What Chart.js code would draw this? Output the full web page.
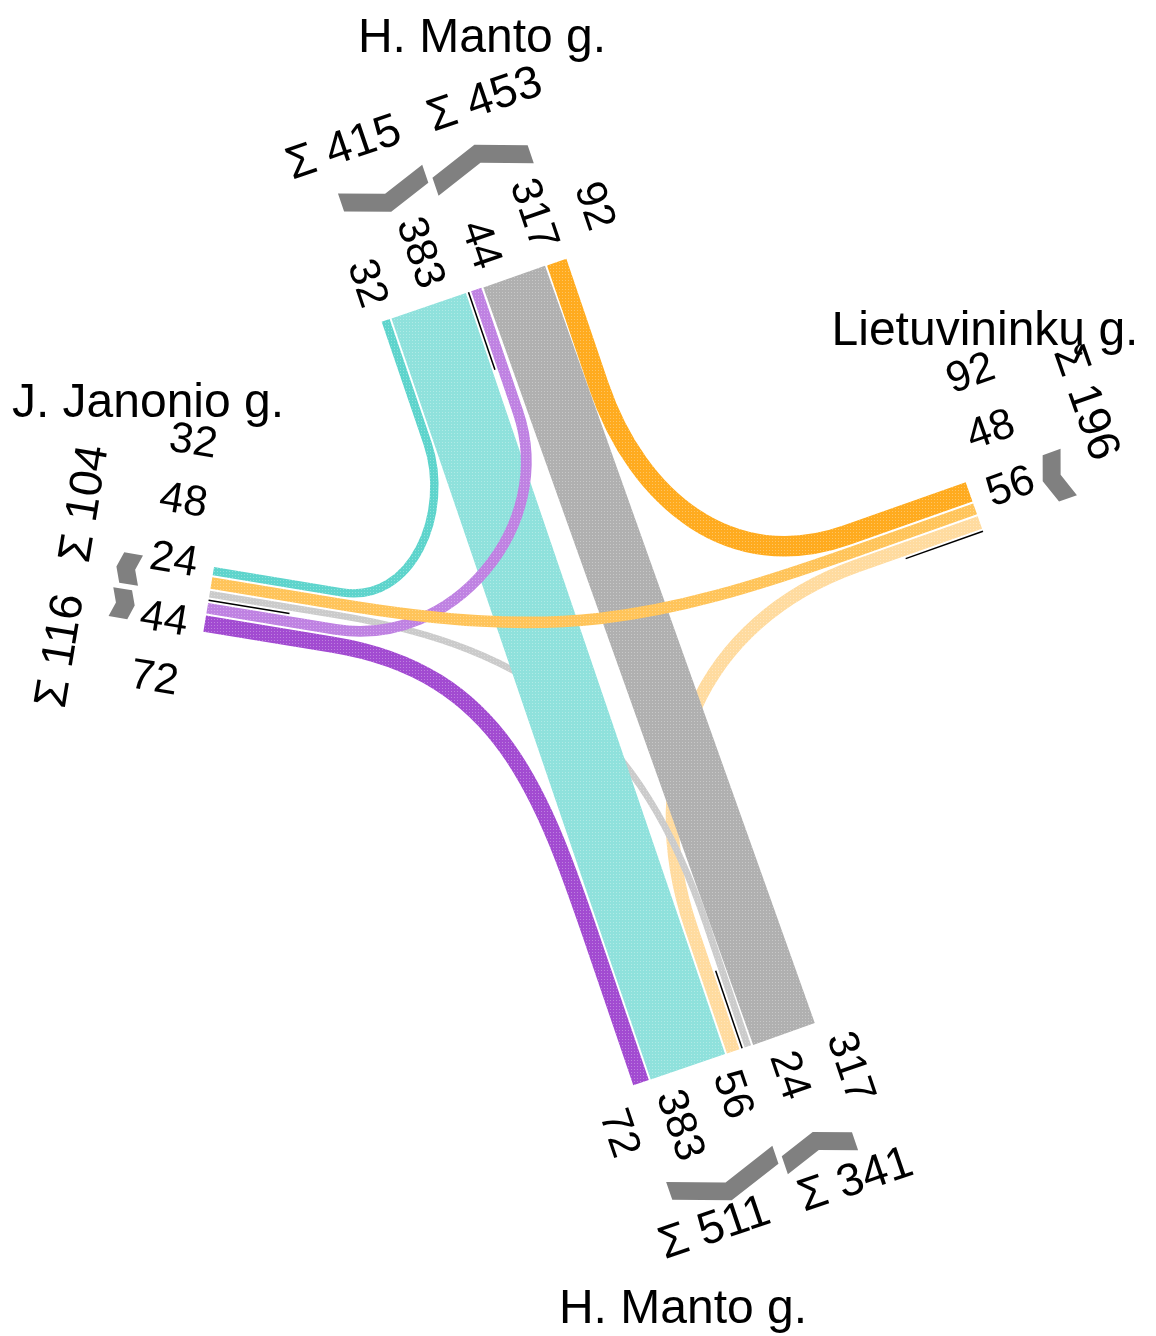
<!DOCTYPE html>
<html>
<head>
<meta charset="utf-8">
<script src="https://cdn.jsdelivr.net/npm/chart.js@4.4.1/dist/chart.umd.min.js"></script>
<style>
  html, body { margin: 0; padding: 0; background: #fff; }
  canvas { display: block; }
</style>
</head>
<body>
<canvas id="junctionChart" width="1156" height="1336"></canvas>
<script>
// arms, listed counter-clockwise
const armCodes = ['N', 'W', 'S', 'E'];
const armNames = ['H. Manto g.', 'J. Janonio g.', 'H. Manto g.', 'Lietuvininkų g.'];

// flows (array order = drawing order)
const flowFrom  = ['E', 'S', 'N', 'S', 'N', 'W', 'W', 'E', 'E'];
const flowTo    = ['S', 'W', 'S', 'N', 'W', 'S', 'N', 'N', 'W'];
const flowValue = [56, 24, 383, 317, 32, 72, 44, 92, 48];

// colour per origin: [right turn, straight, left turn]
const originColors = {
  N: ['#5ed4cc', '#8fe1dc', '#c2efec'],
  W: ['#a24bd1', '#b98be0', '#bf82e2'],
  S: ['#909090', '#b0b0b0', '#cbcbcb'],
  E: ['#ffab1f', '#ffc45a', '#ffdb9f']
};

// where each arm sits (centre of its end, outward angle in degrees)
const layout = {
  N: { x: 474.0, y: 290.3, angle: -108.8, chevron: 101, sum: 176, shift: 22, name: [482, 52] },
  W: { x: 208.7, y: 599.4, angle: -170.64, chevron: 72, sum: 137, shift: 29, name: [148, 417] },
  S: { x: 724.1, y: 1054.4, angle: 71.2, chevron: 102, sum: 162, shift: 0, name: [683, 1323] },
  E: { x: 974.8, y: 508.1, angle: -19.45, chevron: 73, sum: 139, shift: -67, name: [985, 345] }
};

const GAP = 2;          // between bands of one group
const GROUP_GAP = 5.5;  // between outgoing and incoming groups
const STRAIGHT = 130;   // straight run from an arm end
const HANDLE = 0.42;    // bezier handle, share of chord
const CHEV_T = 19;
const CHEV_DEPTH = 0.35;
const LABEL_GAP = 17;
const LABEL_SEP = 60;
const SUM_SEP = 149;
const FONT = "'Liberation Sans', Arial, sans-serif";

function bandWidth(v) {
  return 2 + 0.2 * v;
}

function spread(centers, sep) {
  let groups = centers.map(c => ({ n: 1, sum: c, start: c }));
  let merged = true;
  while (merged) {
    merged = false;
    for (let k = 0; k < groups.length - 1; k++) {
      const g1 = groups[k], g2 = groups[k + 1];
      if (g2.start - (g1.start + (g1.n - 1) * sep) < sep) {
        const n = g1.n + g2.n, sum = g1.sum + g2.sum;
        groups.splice(k, 2, { n: n, sum: sum, start: sum / n - (n - 1) * sep / 2 });
        merged = true;
        break;
      }
    }
  }
  return groups.flatMap(g => Array.from({ length: g.n }, (_, i) => g.start + i * sep));
}

function buildArms() {
  return armCodes.map((code, i) => {
    const L = layout[code];
    const rad = L.angle * Math.PI / 180;
    const d = [Math.cos(rad), Math.sin(rad)];
    const p = [-d[1], d[0]];
    const others = [1, 2, 3].map(k => armCodes[(i + k) % 4]);
    const idx = flowValue.map((v, j) => j);
    const outIdx = idx.filter(j => flowFrom[j] === code)
      .sort((a, b) => others.indexOf(flowTo[a]) - others.indexOf(flowTo[b]));
    const inIdx = idx.filter(j => flowTo[j] === code)
      .sort((a, b) => others.indexOf(flowFrom[a]) - others.indexOf(flowFrom[b]));
    const slots = {};
    let b = 0;
    outIdx.forEach((j, k) => {
      if (k) b += GAP;
      slots[j] = { b0: b, b1: b + bandWidth(flowValue[j]) };
      b = slots[j].b1;
    });
    const outEnd = b;
    b += GROUP_GAP;
    const inStart = b;
    inIdx.forEach((j, k) => {
      if (k) b += GAP;
      slots[j] = { b0: b, b1: b + bandWidth(flowValue[j]) };
      b = slots[j].b1;
    });
    const W = b;
    const pt = (bb, a) => [L.x + (bb - W / 2) * p[0] + a * d[0], L.y + (bb - W / 2) * p[1] + a * d[1]];
    return { code, name: armNames[i], L, d, p, outIdx, inIdx, slots, outEnd, inStart, W, pt };
  });
}

const junctionPlugin = {
  id: 'junction',
  afterDraw(chart) {
    const ctx = chart.ctx;
    const xs = chart.scales.x, ys = chart.scales.y;
    const X = v => xs.getPixelForValue(v);
    const Y = v => ys.getPixelForValue(v);
    const unit = X(1) - X(0);
    const arms = buildArms();
    const byCode = {};
    arms.forEach(a => { byCode[a.code] = a; });

    function dotted(color) {
      const c = document.createElement('canvas');
      c.width = 3; c.height = 3;
      const g = c.getContext('2d');
      g.fillStyle = color;
      g.fillRect(0, 0, 3, 3);
      g.fillStyle = 'rgba(255,255,255,0.3)';
      g.fillRect(1, 1, 1, 1);
      return ctx.createPattern(c, 'repeat');
    }

    ctx.save();

    // ribbons
    flowValue.forEach((v, j) => {
      const A = byCode[flowFrom[j]], B = byCode[flowTo[j]];
      const sa = A.slots[j], sb = B.slots[j];
      const ba = (sa.b0 + sa.b1) / 2, bb = (sb.b0 + sb.b1) / 2;
      const pa = A.pt(ba, 0), pai = A.pt(ba, -STRAIGHT);
      const pb = B.pt(bb, 0), pbi = B.pt(bb, -STRAIGHT);
      const turn = (armCodes.indexOf(flowTo[j]) - armCodes.indexOf(flowFrom[j]) + 4) % 4;
      const opposite = A.d[0] * B.d[0] + A.d[1] * B.d[1] < -0.99;
      ctx.beginPath();
      ctx.moveTo(X(pa[0]), Y(pa[1]));
      if (opposite) {
        ctx.lineTo(X(pb[0]), Y(pb[1]));
      } else {
        const h = HANDLE * Math.hypot(pai[0] - pbi[0], pai[1] - pbi[1]);
        const c1 = [pai[0] - h * A.d[0], pai[1] - h * A.d[1]];
        const c2 = [pbi[0] - h * B.d[0], pbi[1] - h * B.d[1]];
        ctx.lineTo(X(pai[0]), Y(pai[1]));
        ctx.bezierCurveTo(X(c1[0]), Y(c1[1]), X(c2[0]), Y(c2[1]), X(pbi[0]), Y(pbi[1]));
        ctx.lineTo(X(pb[0]), Y(pb[1]));
      }
      ctx.lineWidth = bandWidth(v) * unit;
      ctx.lineCap = 'butt';
      ctx.lineJoin = 'round';
      ctx.strokeStyle = dotted(originColors[flowFrom[j]][turn - 1]);
      ctx.stroke();
    });

    arms.forEach(arm => {
      // divider between outgoing and incoming
      const bl = arm.outEnd + GROUP_GAP / 2;
      const l0 = arm.pt(bl, 0), l1 = arm.pt(bl, -82);
      ctx.beginPath();
      ctx.moveTo(X(l0[0]), Y(l0[1]));
      ctx.lineTo(X(l1[0]), Y(l1[1]));
      ctx.lineWidth = 1.5;
      ctx.strokeStyle = '#000';
      ctx.stroke();

      // chevrons
      const groups = [
        { idx: arm.outIdx, b0: 0, b1: arm.outEnd, inward: true },
        { idx: arm.inIdx, b0: arm.inStart, b1: arm.W, inward: false }
      ];
      groups.forEach(g => {
        if (!g.idx.length) return;
        const half = (g.b1 - g.b0) / 2, bm = (g.b0 + g.b1) / 2;
        const dep = CHEV_DEPTH * half, a0 = arm.L.chevron;
        const inner = g.inward
          ? [[a0 + dep, g.b0], [a0, bm], [a0 + dep, g.b1]]
          : [[a0, g.b0], [a0 + dep, bm], [a0, g.b1]];
        const outer = inner.map(q => [q[0] + CHEV_T, q[1]]).reverse();
        ctx.beginPath();
        inner.concat(outer).forEach((q, k) => {
          const s = arm.pt(q[1], q[0]);
          if (k) ctx.lineTo(X(s[0]), Y(s[1])); else ctx.moveTo(X(s[0]), Y(s[1]));
        });
        ctx.closePath();
        ctx.fillStyle = '#808080';
        ctx.fill();
      });

      ctx.fillStyle = '#000';
      ctx.textAlign = 'center';
      ctx.textBaseline = 'middle';

      // value labels
      const order = arm.outIdx.concat(arm.inIdx);
      const centers = order.map(j => (arm.slots[j].b0 + arm.slots[j].b1) / 2);
      const placed = spread(centers, LABEL_SEP);
      const rd = arm.d[0] > 0 ? arm.d : [-arm.d[0], -arm.d[1]];
      ctx.font = '43px ' + FONT;
      order.forEach((j, k) => {
        const txt = String(flowValue[j]);
        const a = LABEL_GAP + ctx.measureText(txt).width / 2 / unit;
        const s = arm.pt(placed[k] + arm.L.shift, a);
        ctx.save();
        ctx.translate(X(s[0]), Y(s[1]));
        ctx.rotate(Math.atan2(rd[1], rd[0]));
        ctx.fillText(txt, 0, 0);
        ctx.restore();
      });

      // group sums
      const sums = [arm.outIdx, arm.inIdx].map(list => list.reduce((t, j) => t + flowValue[j], 0));
      const sumPos = spread([arm.outEnd / 2, (arm.inStart + arm.W) / 2], SUM_SEP);
      const rp = arm.p[0] > 0 ? arm.p : [-arm.p[0], -arm.p[1]];
      ctx.font = '46px ' + FONT;
      [arm.outIdx, arm.inIdx].forEach((list, k) => {
        if (!list.length) return;
        const s = arm.pt(sumPos[k], arm.L.sum);
        ctx.save();
        ctx.translate(X(s[0]), Y(s[1]));
        ctx.rotate(Math.atan2(rp[1], rp[0]));
        ctx.fillText('Σ ' + sums[k], 0, 0);
        ctx.restore();
      });

      // street name
      ctx.font = '48px ' + FONT;
      ctx.textBaseline = 'alphabetic';
      ctx.fillText(arm.name, X(arm.L.name[0]), Y(arm.L.name[1]));
    });

    ctx.restore();
  }
};

new Chart(document.getElementById('junctionChart').getContext('2d'), {
  type: 'scatter',
  data: { datasets: [] },
  options: {
    responsive: false,
    animation: false,
    devicePixelRatio: 1,
    layout: { padding: 0 },
    scales: {
      x: { type: 'linear', min: 0, max: 1156, display: false },
      y: { type: 'linear', min: 0, max: 1336, reverse: true, display: false }
    },
    plugins: {
      legend: { display: false },
      tooltip: { enabled: false }
    }
  },
  plugins: [junctionPlugin]
});
</script>
</body>
</html>
